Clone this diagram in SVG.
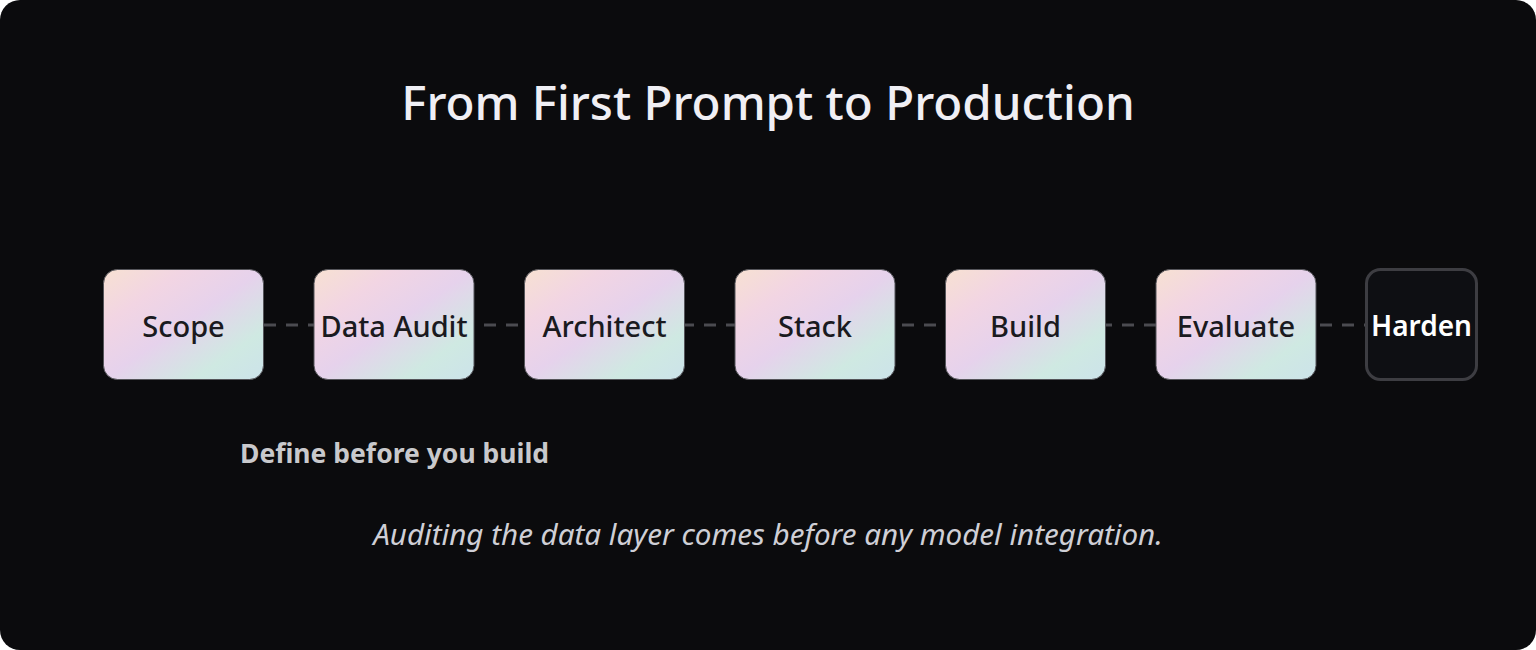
<svg xmlns="http://www.w3.org/2000/svg" width="1536" height="650" viewBox="0 0 1536 650">
<defs>
<linearGradient id="pastel" x1="0" y1="0" x2="1" y2="1">
<stop offset="0" stop-color="#f7e1d2"/>
<stop offset="0.25" stop-color="#f2d5e3"/>
<stop offset="0.5" stop-color="#e6d2ec"/>
<stop offset="0.78" stop-color="#cfe9e2"/>
<stop offset="1" stop-color="#cce3ea"/>
</linearGradient>
<style>
.node{fill:url(#pastel);stroke:#55555a;stroke-width:1}
.lbl{font-family:"Noto Sans","Open Sans",sans-serif;font-size:29px;font-weight:500;fill:#1a1a20;text-anchor:middle;dominant-baseline:central}
.conn{stroke:#4b4b50;stroke-width:3;stroke-dasharray:12 10;fill:none}
</style>
</defs>
<rect x="0" y="0" width="1536" height="650" fill="#ffffff"/>
<rect x="0" y="0" width="1536" height="650" rx="20" fill="#0b0b0d"/>
<text x="768" y="120" font-family="Noto Sans, Open Sans, sans-serif" font-size="47.5" font-weight="500" fill="#f0eff4" text-anchor="middle">From First Prompt to Production</text>
<g id="connectors">
<line class="conn" x1="264" y1="325" x2="1365" y2="325"/>
</g>
<g id="n-scope"><rect class="node" x="103.5" y="269.5" width="160" height="110" rx="14"/><text class="lbl" x="183.5" y="325">Scope</text></g>
<g id="n-data-audit"><rect class="node" x="314" y="269.5" width="160" height="110" rx="14"/><text class="lbl" x="394" y="325">Data Audit</text></g>
<g id="n-architect"><rect class="node" x="524.5" y="269.5" width="160" height="110" rx="14"/><text class="lbl" x="604.5" y="325">Architect</text></g>
<g id="n-stack"><rect class="node" x="735" y="269.5" width="160" height="110" rx="14"/><text class="lbl" x="815" y="325">Stack</text></g>
<g id="n-build"><rect class="node" x="945.5" y="269.5" width="160" height="110" rx="14"/><text class="lbl" x="1025.5" y="325">Build</text></g>
<g id="n-evaluate"><rect class="node" x="1156" y="269.5" width="160" height="110" rx="14"/><text class="lbl" x="1236" y="325">Evaluate</text></g>
<g id="n-harden"><rect x="1366.5" y="269.5" width="110" height="110" rx="14" fill="#0e0f13" stroke="#3d3d42" stroke-width="3"/><text class="lbl" x="1421.5" y="325" style="fill:#ffffff;font-weight:600;font-size:28px">Harden</text></g>
<text x="240" y="463" font-family="Noto Sans, Open Sans, sans-serif" font-size="26.5" font-weight="700" fill="#c9c9cc">Define before you build</text>
<text x="768" y="545" font-family="Noto Sans, Open Sans, sans-serif" font-size="29.6" font-style="italic" fill="#cfcfd6" text-anchor="middle">Auditing the data layer comes before any model integration.</text>
</svg>
